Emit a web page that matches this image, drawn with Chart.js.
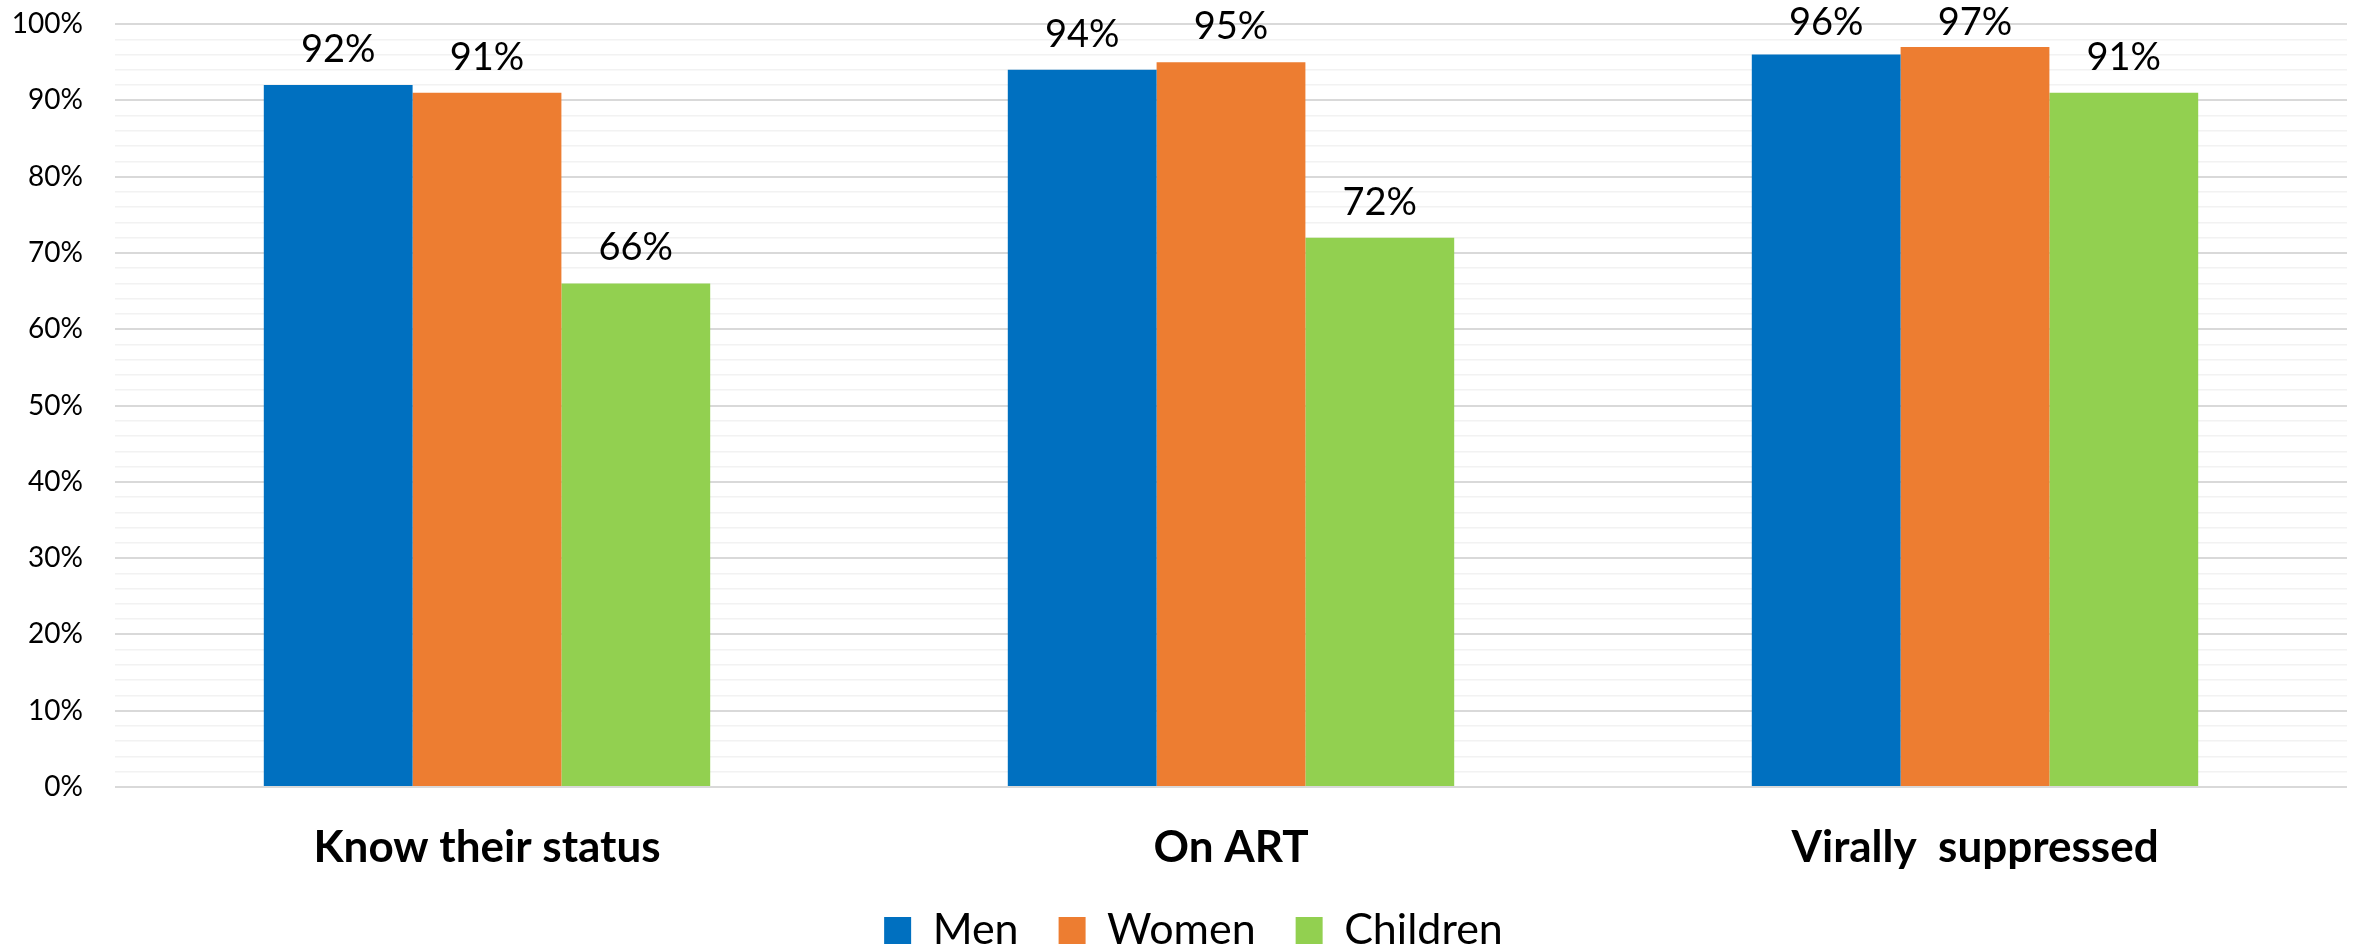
<!DOCTYPE html>
<html>
<head>
<meta charset="utf-8">
<script src="https://cdn.jsdelivr.net/npm/chart.js@4/dist/chart.umd.min.js"></script>
<style>
html,body{margin:0;padding:0;background:#fff;}
#wrap{width:2361px;height:951px;position:relative;overflow:hidden;}
</style>
</head>
<body>
<div id="wrap"><canvas id="c"></canvas></div>
<script>
const categories = ["Know their status", "On ART", "Virally  suppressed"];
const seriesNames = ["Men", "Women", "Children"];
const men = [92, 94, 96];
const women = [91, 95, 97];
const children = [66, 72, 91];
const seriesColors = ["#0070C0", "#ED7D31", "#92D050"];
const yMin = 0, yMax = 100, yStep = 2, yMajor = 10;

const FONT = "Lato, 'Open Sans', sans-serif";

const dataLabels = {
  id: 'dataLabels',
  afterDatasetsDraw(chart) {
    const ctx = chart.ctx;
    ctx.save();
    ctx.font = "38px " + FONT;
    ctx.fillStyle = "#000";
    ctx.textAlign = "center";
    ctx.textBaseline = "alphabetic";
    chart.data.datasets.forEach((ds, i) => {
      const meta = chart.getDatasetMeta(i);
      meta.data.forEach((el, j) => {
        const y = Math.max(el.y - 23, 35);
        ctx.fillText(ds.data[j] + "%", el.x, y);
      });
    });
    ctx.restore();
  }
};

const legendShift = {
  id: 'legendShift',
  afterLayout(chart) {
    if (chart.legend) {
      chart.legend.left += 20;
      chart.legend.right += 20;
    }
  }
};

new Chart(document.getElementById('c'), {
  type: 'bar',
  data: {
    labels: categories,
    datasets: [
      { label: seriesNames[0], data: men, backgroundColor: seriesColors[0] },
      { label: seriesNames[1], data: women, backgroundColor: seriesColors[1] },
      { label: seriesNames[2], data: children, backgroundColor: seriesColors[2] }
    ]
  },
  options: {
    responsive: true,
    maintainAspectRatio: false,
    animation: false,
    devicePixelRatio: 1,
    datasets: { bar: { categoryPercentage: 0.6, barPercentage: 1.0, borderWidth: 0 } },
    layout: { padding: { left: 0, right: 14, top: 24, bottom: -11 } },
    plugins: {
      legend: {
        position: 'bottom',
        labels: {
          font: { family: FONT, size: 43 },
          color: '#000',
          boxWidth: 27,
          boxHeight: 27,
          padding: 40
        }
      },
      tooltip: { enabled: false }
    },
    scales: {
      x: {
        grid: { display: false },
        border: { display: false },
        ticks: {
          font: { family: FONT, size: 44, weight: 'bold' },
          color: '#000',
          padding: 26
        },
        afterFit(scale) { scale.height = 82; }
      },
      y: {
        min: yMin, max: yMax,
        border: { display: false },
        grid: {
          drawTicks: false,
          color: (c) => (c.tick && c.tick.value % yMajor === 0) ? '#D9D9D9' : '#F2F2F2',
          lineWidth: (c) => (c.tick && c.tick.value % yMajor === 0) ? 2 : 1.5
        },
        ticks: {
          stepSize: yStep,
          autoSkip: false,
          font: { family: FONT, size: 28 },
          color: '#000',
          padding: 32,
          callback: (v) => (v % yMajor === 0) ? v + '%' : ''
        },
        afterFit(scale) {
          scale.width = 115;
          scale.paddingTop = 0;
          scale.paddingBottom = 0;
        }
      }
    }
  },
  plugins: [dataLabels, legendShift]
});
</script>
</body>
</html>
